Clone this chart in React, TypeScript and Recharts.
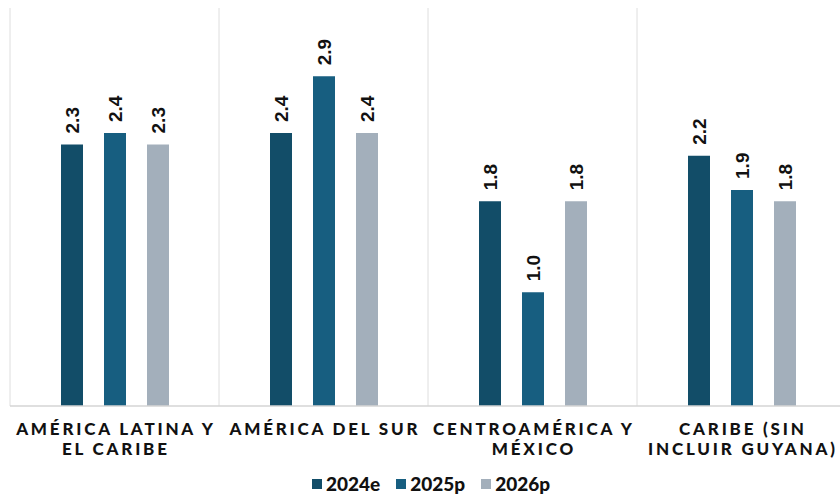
import { BarChart, Bar, XAxis, YAxis, CartesianGrid, Legend, LabelList } from 'recharts';

const categories = [
  'AMÉRICA LATINA Y EL CARIBE',
  'AMÉRICA DEL SUR',
  'CENTROAMÉRICA Y MÉXICO',
  'CARIBE (SIN INCLUIR GUYANA)',
];
const tickLines = [
  ['AMÉRICA LATINA Y', 'EL CARIBE'],
  ['AMÉRICA DEL SUR'],
  ['CENTROAMÉRICA Y', 'MÉXICO'],
  ['CARIBE (SIN', 'INCLUIR GUYANA)'],
];
const values2024e = [2.3, 2.4, 1.8, 2.2];
const values2025p = [2.4, 2.9, 1.0, 1.9];
const values2026p = [2.3, 2.4, 1.8, 1.8];

const series = [
  { key: 'y2024e', name: '2024e', color: '#124d68' },
  { key: 'y2025p', name: '2025p', color: '#175e80' },
  { key: 'y2026p', name: '2026p', color: '#a3afbb' },
];

const data = categories.map((name, i) => ({
  name,
  y2024e: values2024e[i],
  y2025p: values2025p[i],
  y2026p: values2026p[i],
}));

const CategoryTick = ({ x, y, index }: any) => {
  const lines = tickLines[index] || [];
  return (
    <text
      x={x}
      y={y}
      textAnchor="middle"
      fill="#111"
      style={{ fontFamily: 'Lato, sans-serif', fontWeight: 900, fontSize: 17, letterSpacing: 2.8 }}
    >
      {lines.map((l: string, i: number) => (
        <tspan key={i} x={x + 1.4} dy={i === 0 ? 21 : 20}>
          {l}
        </tspan>
      ))}
    </text>
  );
};

const ValueLabel = ({ x, y, width, value }: any) => {
  const cx = x + width / 2;
  const cy = y - 11;
  return (
    <text
      x={cx}
      y={cy}
      dy="0.36em"
      transform={`rotate(-90 ${cx} ${cy})`}
      textAnchor="start"
      fill="#111"
      style={{ fontFamily: '"Liberation Sans", Arial, sans-serif', fontWeight: 700, fontSize: 19 }}
    >
      {Number(value).toFixed(1)}
    </text>
  );
};

const LegendContent = () => (
  <div
    style={{
      height: 28,
      display: 'flex',
      justifyContent: 'center',
      alignItems: 'center',
      paddingLeft: 6,
      fontFamily: 'Lato, sans-serif',
      fontWeight: 900,
      fontSize: 19,
      lineHeight: '20px',
      color: '#111',
    }}
  >
    {series.map((s) => (
      <div key={s.key} style={{ display: 'flex', alignItems: 'center', margin: '0 8px' }}>
        <span style={{ width: 10, height: 10, background: s.color, marginRight: 4, display: 'inline-block' }} />
        {s.name}
      </div>
    ))}
  </div>
);

export default function App() {
  return (
    <div style={{ position: 'absolute', left: 0, top: 0, width: 840, height: 498, overflow: 'hidden', background: '#fff' }}>
      <BarChart
        width={848}
        height={498}
        data={data}
        margin={{ top: 8, right: 2, left: 10, bottom: 0 }}
        barSize={22}
        barGap={21}
      >
        <CartesianGrid
          horizontal={false}
          stroke="#dedede"
          verticalCoordinatesGenerator={({ offset }: any) =>
            categories.map((_, i) => offset.left + (i * offset.width) / categories.length)
          }
        />
        <XAxis
          dataKey="name"
          height={64}
          interval={0}
          tickLine={false}
          axisLine={{ stroke: '#d4d4d4', strokeWidth: 1.5 }}
          tick={<CategoryTick />}
        />
        <YAxis hide domain={[0, 3.5]} />
        <Legend verticalAlign="bottom" content={<LegendContent />} />
        {series.map((s) => (
          <Bar key={s.key} dataKey={s.key} name={s.name} fill={s.color} isAnimationActive={false}>
            <LabelList dataKey={s.key} content={<ValueLabel />} />
          </Bar>
        ))}
      </BarChart>
    </div>
  );
}
